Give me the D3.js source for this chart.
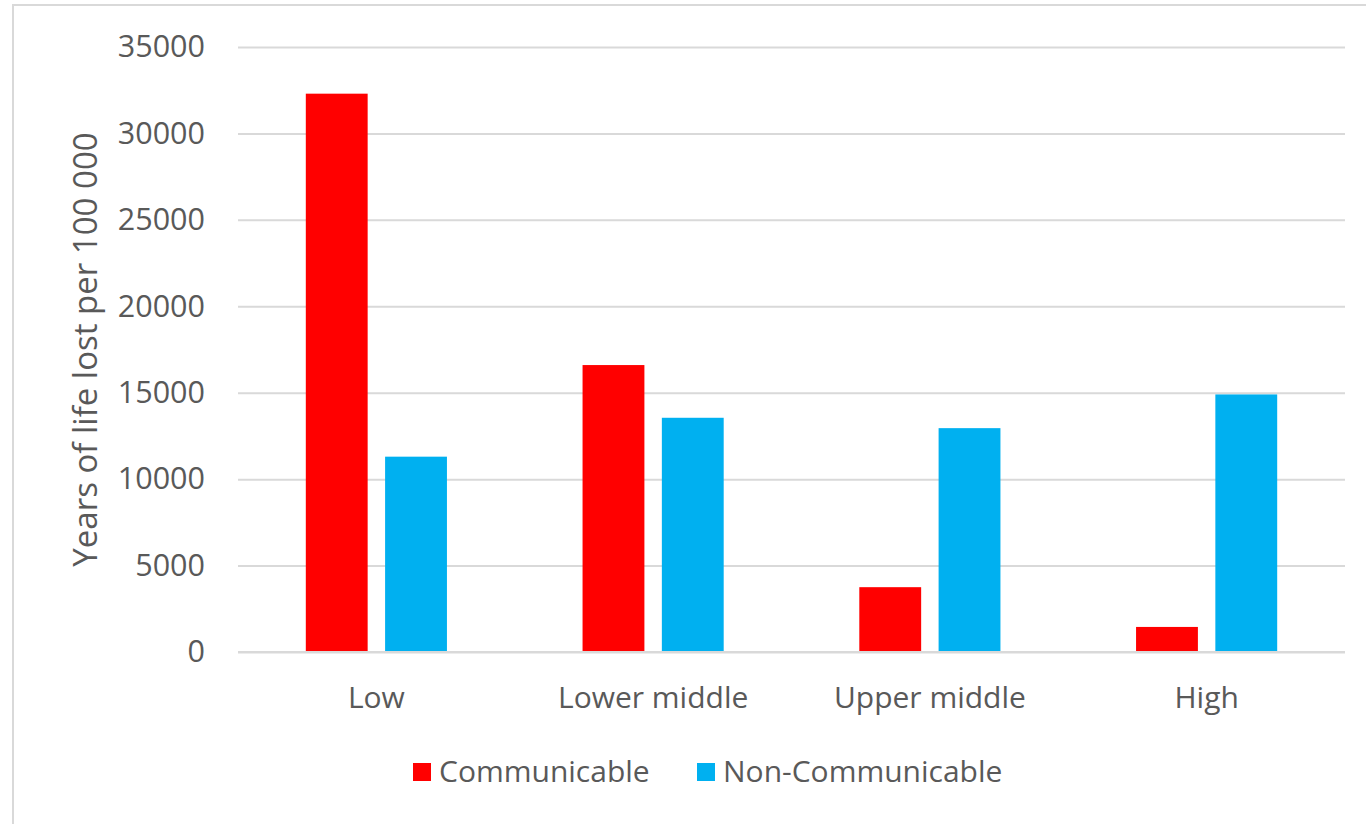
<!DOCTYPE html>
<html>
<head>
<meta charset="utf-8">
<script src="https://cdn.jsdelivr.net/npm/d3@7"></script>
<style>
  body { margin: 0; background: #fff; }
  svg text { font-family: "Open Sans", sans-serif; fill: #595959; }
</style>
</head>
<body>
<div id="chart"></div>
<script>
// chart data
var categories = ["Low", "Lower middle", "Upper middle", "High"];
var seriesNames = ["Communicable", "Non-Communicable"];
var communicable = [32300, 16600, 3750, 1450];
var nonCommunicable = [11300, 13550, 12950, 14900];
var yTicks = [0, 5000, 10000, 15000, 20000, 25000, 30000, 35000];

var colors = ["#FF0000", "#00B0F0"];

var svgWidth = 1366;
var svgHeight = 824;

var margin = { top: 47, right: 21, bottom: 172, left: 238 };
var chartWidth = svgWidth - margin.left - margin.right;
var chartHeight = svgHeight - margin.top - margin.bottom;

var svg = d3.select("#chart")
  .append("svg")
  .attr("width", svgWidth)
  .attr("height", svgHeight);

// outer chart border (runs off the right and bottom edges)
svg.append("rect")
  .attr("x", 13)
  .attr("y", 5)
  .attr("width", 1400)
  .attr("height", 900)
  .attr("fill", "none")
  .attr("stroke", "#D9D9D9")
  .attr("stroke-width", 2);

var chartGroup = svg.append("g")
  .attr("transform", `translate(${margin.left}, ${margin.top})`);

var x0 = d3.scaleBand()
  .domain(categories)
  .range([0, chartWidth])
  .paddingInner(0.49)
  .paddingOuter(0.245);

var x1 = d3.scaleBand()
  .domain(seriesNames)
  .range([0, x0.bandwidth()])
  .paddingInner(0.22);

var y = d3.scaleLinear()
  .domain([0, 35000])
  .range([chartHeight, 0]);

// gridlines + tick labels
var leftAxis = d3.axisLeft(y)
  .tickValues(yTicks)
  .tickSize(-chartWidth)
  .tickPadding(33)
  .tickFormat(d3.format("d"));

var yAxis = chartGroup.append("g").call(leftAxis);
yAxis.select(".domain").remove();
yAxis.selectAll("line").attr("stroke", "#D9D9D9").attr("stroke-width", 2);
yAxis.selectAll("text")
  .style("font-size", "30.5px")
  .attr("fill", "#595959");

// bars
var rows = categories.map(function(c, i) {
  return { category: c, values: [communicable[i], nonCommunicable[i]] };
});

var groups = chartGroup.selectAll(".cat")
  .data(rows)
  .enter().append("g")
  .attr("class", "cat")
  .attr("transform", d => `translate(${x0(d.category)}, 0)`);

groups.selectAll("rect")
  .data(d => d.values.map((v, j) => ({ name: seriesNames[j], value: v, idx: j })))
  .enter().append("rect")
  .attr("x", d => x1(d.name))
  .attr("width", x1.bandwidth())
  .attr("y", d => y(d.value))
  .attr("height", d => chartHeight - y(d.value))
  .attr("fill", d => colors[d.idx]);

// redraw baseline on top
chartGroup.append("line")
  .attr("x1", 0).attr("x2", chartWidth)
  .attr("y1", y(0)).attr("y2", y(0))
  .attr("stroke", "#D9D9D9")
  .attr("stroke-width", 2);

// category labels
var bottomAxis = d3.axisBottom(x0).tickSize(0).tickPadding(0);
var xAxis = chartGroup.append("g")
  .attr("transform", `translate(0, ${chartHeight})`)
  .call(bottomAxis);
xAxis.select(".domain").remove();
xAxis.selectAll("text")
  .attr("dy", null)
  .attr("y", 56)
  .style("font-size", "30px")
  .attr("fill", "#595959");

// y axis title
svg.append("text")
  .attr("transform", `translate(97, ${margin.top + chartHeight / 2}) rotate(-90)`)
  .attr("text-anchor", "middle")
  .style("font-size", "33px")
  .text("Years of life lost per 100 000");

// legend
var legendItems = [
  { name: seriesNames[0], x: 413 },
  { name: seriesNames[1], x: 697 }
];
var legend = svg.selectAll(".legend")
  .data(legendItems)
  .enter().append("g")
  .attr("class", "legend")
  .attr("transform", d => `translate(${d.x}, 763)`);

legend.append("rect")
  .attr("width", 18)
  .attr("height", 18)
  .attr("fill", (d, i) => colors[i]);

legend.append("text")
  .attr("x", 26)
  .attr("y", 19)
  .style("font-size", "30px")
  .text(d => d.name);
</script>
</body>
</html>
